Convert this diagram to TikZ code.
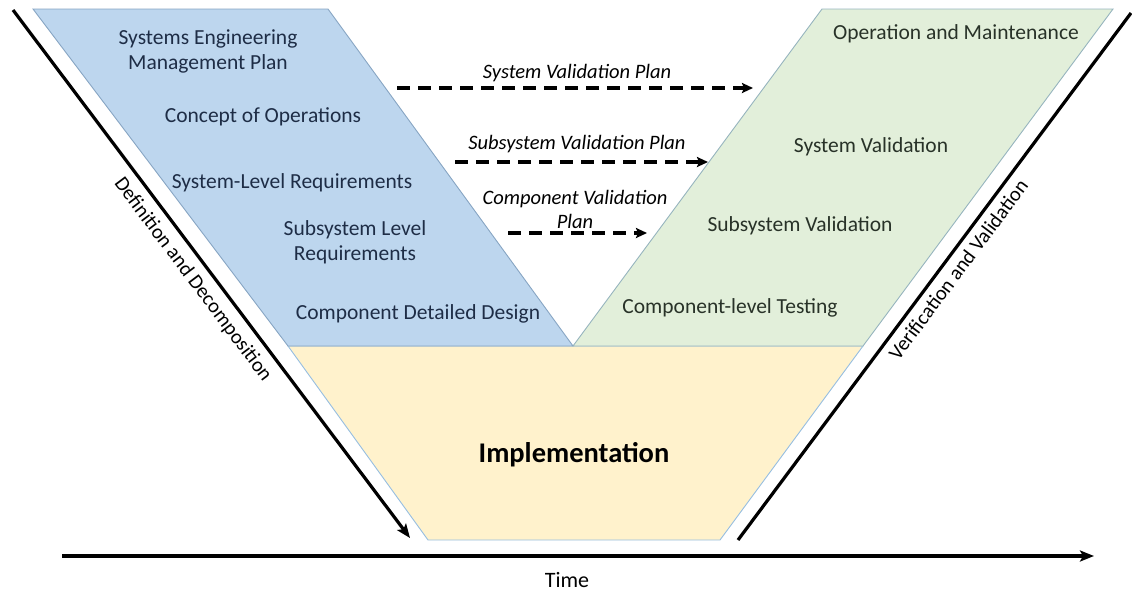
\documentclass[tikz,border=0pt]{standalone}
\usepackage{fontspec}
\setmainfont{Carlito}
\usetikzlibrary{arrows.meta}

\definecolor{phaseblue}{RGB}{189,214,238}
\definecolor{phasegreen}{RGB}{226,239,218}
\definecolor{phaseyellow}{RGB}{255,242,204}
\definecolor{edgeblue}{RGB}{135,165,195}
\definecolor{edgegreen}{RGB}{150,180,190}
\definecolor{edgeyellow}{RGB}{150,190,225}
\definecolor{navytext}{RGB}{30,45,70}
\definecolor{greentext}{RGB}{40,50,40}

\begin{document}
\begin{tikzpicture}[x=1pt,y=-1pt,
  phase/.style={line width=0.9pt, line join=miter},
  stagetext/.style={font=\fontsize{21.5}{25}\selectfont, align=center, inner sep=0pt},
  plantext/.style={font=\fontsize{20.5}{24}\selectfont\itshape, align=center, inner sep=0pt},
  axislabel/.style={font=\fontsize{20.5}{24}\selectfont, inner sep=0pt},
  axisline/.style={line width=3.2pt, -{Stealth[length=14pt,width=11pt,inset=3pt]}},
  planarrow/.style={line width=3.1pt, dash pattern=on 13pt off 8pt,
    -{Stealth[length=11pt,width=10pt,inset=2pt]}}]

\useasboundingbox (0,0) rectangle (1132,592);

% corner points of the three phases
\coordinate (b1) at (33,9);   \coordinate (b2) at (328,9);
\coordinate (b3) at (573,346); \coordinate (b4) at (288,346);
\coordinate (g1) at (822,9);  \coordinate (g2) at (1113,9);
\coordinate (g3) at (863,346); \coordinate (g4) at (573,346);
\coordinate (y1) at (288,346); \coordinate (y2) at (863,346);
\coordinate (y3) at (720,540); \coordinate (y4) at (428,540);

% phases
\filldraw[phase, fill=phaseyellow, draw=edgeyellow] (y1) -- (y2) -- (y3) -- (y4) -- cycle;
\filldraw[phase, fill=phaseblue, draw=edgeblue] (b1) -- (b2) -- (b3) -- (b4) -- cycle;
\filldraw[phase, fill=phasegreen, draw=edgegreen] (g1) -- (g2) -- (g3) -- (g4) -- cycle;

% definition side
\node[stagetext, text=navytext] (semp) at (208,51) {Systems Engineering\\Management Plan};
\node[stagetext, text=navytext] (conops) at (263,117) {Concept of Operations};
\node[stagetext, text=navytext] (sysreq) at (292,183) {System-Level Requirements};
\node[stagetext, text=navytext] (subreq) at (355,242) {Subsystem Level\\Requirements};
\node[stagetext, text=navytext] (compdes) at (418,314) {Component Detailed Design};

% validation side
\node[stagetext, text=greentext] (opmaint) at (956,34) {Operation and Maintenance};
\node[stagetext, text=greentext] (sysval) at (871,147) {System Validation};
\node[stagetext, text=greentext] (subval) at (800,226) {Subsystem Validation};
\node[stagetext, text=greentext] (comptest) at (730,308) {Component-level Testing};

% implementation
\node[font=\fontsize{28.5}{32}\selectfont\bfseries, inner sep=0pt] (impl) at (574,455) {Implementation};

% validation plans
\coordinate (sysS) at (397,88);  \coordinate (sysE) at (753,88);
\coordinate (subS) at (455,162); \coordinate (subE) at (708,162);
\coordinate (cmpS) at (508,233); \coordinate (cmpE) at (647,233);
\node[plantext] (sysplan) at (577,73) {System Validation Plan};
\node[plantext] (subplan) at (577,144) {Subsystem Validation Plan};
\node[plantext] (cmpplan) at (575,209) {Component Validation\\Plan};
\draw[planarrow] (sysS) -- (sysE);
\draw[planarrow] (subS) -- (subE);
\draw[planarrow] (cmpS) -- (cmpE);

% the V legs and the time axis
\coordinate (defTop) at (13,10);  \coordinate (defEnd) at (410,538);
\coordinate (verBot) at (738,540); \coordinate (verTop) at (1131,13);
\coordinate (timeS) at (62,556);  \coordinate (timeE) at (1094,556);
\draw[axisline] (defTop) -- node[axislabel, sloped, below=8pt, pos=0.49] (deflabel) {Definition and Decomposition} (defEnd);
\draw[line width=3.2pt] (verBot) -- node[axislabel, sloped, below=6pt, pos=0.53] (verlabel) {Verification and Validation} (verTop);
\draw[axisline] (timeS) -- (timeE);
\node[font=\fontsize{22}{26}\selectfont, inner sep=0pt] (time) at (567,580) {Time};

\end{tikzpicture}
\end{document}
